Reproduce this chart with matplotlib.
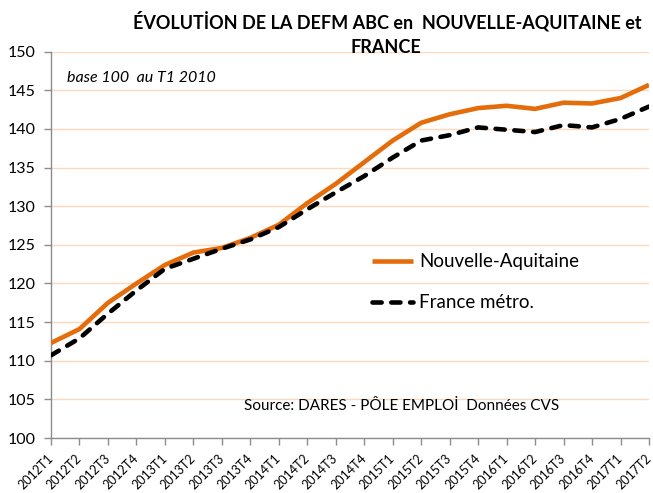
import matplotlib
matplotlib.use("Agg")
import matplotlib.pyplot as plt
from matplotlib.lines import Line2D

# Quarterly job-seeker index (DEFM ABC), base 100 at 2010 Q1
quarters = ["2012T1", "2012T2", "2012T3", "2012T4",
            "2013T1", "2013T2", "2013T3", "2013T4",
            "2014T1", "2014T2", "2014T3", "2014T4",
            "2015T1", "2015T2", "2015T3", "2015T4",
            "2016T1", "2016T2", "2016T3", "2016T4",
            "2017T1", "2017T2"]
nouvelle_aquitaine = [112.3, 114.1, 117.5, 120.0, 122.4, 124.0, 124.6, 125.9,
                      127.6, 130.4, 132.9, 135.7, 138.5, 140.8, 141.9, 142.7,
                      143.0, 142.6, 143.4, 143.3, 144.0, 145.7]
france_metro = [110.7, 112.9, 116.1, 119.1, 121.9, 123.2, 124.5, 125.7,
                127.3, 129.6, 131.8, 133.9, 136.3, 138.5, 139.2, 140.2,
                139.9, 139.6, 140.5, 140.2, 141.3, 142.9]
series_names = ["Nouvelle-Aquitaine", "France métro."]

y_ticks = list(range(100, 151, 5))

plt.rcParams['font.family'] = ['Lato', 'DejaVu Sans']

W, H = 653, 493
fig = plt.figure(figsize=(W / 100, H / 100), dpi=100)


def fx(px):
    return px / W


def fy(py):
    return 1 - py / H


ax = fig.add_axes([fx(51), fy(438), fx(649) - fx(51), fy(51.7) - fy(438)])

orange_style = dict(color='#E46C0A', lw=3.3, solid_capstyle='butt')
black_style = dict(color='black', lw=3.3, dashes=(2.0, 2.1),
                   dash_capstyle='round')

x = list(range(len(quarters)))
ax.plot(x, nouvelle_aquitaine, zorder=3, **orange_style)
ax.plot(x, france_metro, zorder=4, **black_style)

ax.set_xlim(0, len(quarters) - 1)
ax.set_ylim(100, 150)
ax.set_yticks(y_ticks)
ax.set_yticklabels([str(v) for v in y_ticks], fontsize=11.5)
ax.set_xticks(x)
ax.set_xticklabels(quarters, rotation=45, ha='right', va='center',
                   rotation_mode='anchor', fontsize=9)

ax.grid(axis='y', color='#FCD9BC', lw=1.0, zorder=0)
ax.set_axisbelow(True)
for side in ('top', 'right'):
    ax.spines[side].set_visible(False)
for side in ('left', 'bottom'):
    ax.spines[side].set_color('#8C8C8C')
    ax.spines[side].set_linewidth(1.0)
ax.tick_params(axis='both', colors='#8C8C8C', length=5, width=1.0,
               labelcolor='black')
ax.tick_params(axis='y', pad=6)
ax.tick_params(axis='x', pad=8)

# Title (two lines)
fig.text(fx(387), fy(28.3), "ÉVOLUTİON DE LA DEFM ABC en  NOUVELLE-AQUITAINE et",
         ha='center', va='baseline', fontsize=13, fontweight='bold')
fig.text(fx(386), fy(53.3), "FRANCE",
         ha='center', va='baseline', fontsize=13, fontweight='bold')

fig.text(fx(67), fy(81.5), "base 100  au T1 2010",
         ha='left', va='baseline', fontsize=11.5, fontstyle='italic')
fig.text(fx(401.5), fy(410), "Source: DARES - PÔLE EMPLOİ  Données CVS",
         ha='center', va='baseline', fontsize=11)

# Legend drawn inside the plot area
for (style, name, y_line, y_base) in [(orange_style, series_names[0], 261, 267.3),
                                      (black_style, series_names[1], 301.5, 307.7)]:
    fig.add_artist(Line2D([fx(372), fx(413)], [fy(y_line), fy(y_line)],
                          transform=fig.transFigure, **style))
    fig.text(fx(419), fy(y_base), name, ha='left', va='baseline', fontsize=13.5)

fig.savefig("out.png", dpi=100)
